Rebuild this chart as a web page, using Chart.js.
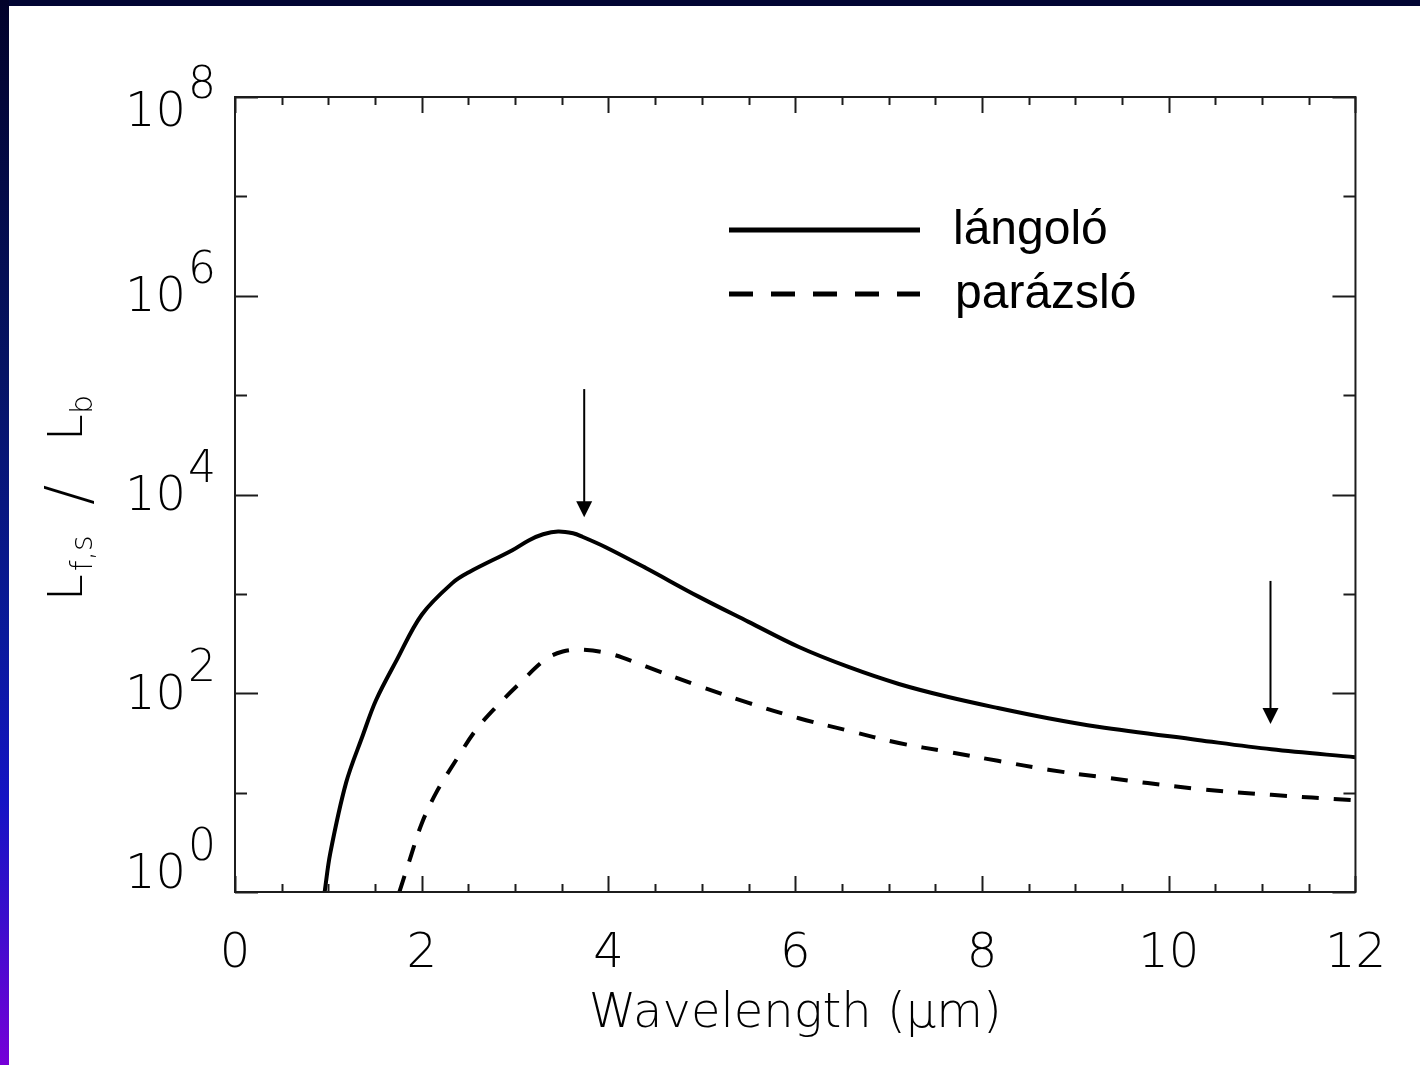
<!DOCTYPE html>
<html>
<head>
<meta charset="utf-8">
<script src="https://cdn.jsdelivr.net/npm/chart.js@4.4.1/dist/chart.umd.min.js"></script>
<style>
  html, body { margin: 0; padding: 0; background: #fff; }
  #wrap { position: relative; width: 1420px; height: 1065px; overflow: hidden; background: #fff; }
  #topbar { position: absolute; left: 0; top: 0; width: 1420px; height: 6px; background: #020533; z-index: 2; }
  #leftbar { position: absolute; left: 0; top: 0; width: 9px; height: 1065px; z-index: 2;
    background: linear-gradient(to bottom, #02022a 0%, #061465 35%, #0a1a9c 60%, #1414c4 75%, #3a0ecc 86%, #7600d8 100%); }
  canvas { position: absolute; left: 0; top: 0; }
</style>
</head>
<body>
<div id="wrap">
  <div id="topbar"></div>
  <div id="leftbar"></div>
  <canvas id="chart" width="1420" height="1065"></canvas>
</div>
<script>
(() => {
  'use strict';

  // flaming (lángoló) curve
  const flamingX = [0.96, 1.02, 1.19, 1.37, 1.51, 1.73, 2.0, 2.33, 2.51, 2.97, 3.15, 3.3, 3.46, 3.62, 3.72, 3.97, 4.4, 4.97, 5.5, 6.04, 6.57, 7.11, 7.64, 8.17, 8.71, 9.24, 10.31, 11.1, 12.0];
  const flamingY = [1.0, 2.45, 12.6, 38, 85, 214, 617, 1290, 1660, 2750, 3470, 3980, 4250, 4070, 3760, 2950, 1820, 933, 523, 292, 184, 124, 91.6, 71, 56, 46, 33.9, 27.3, 22.7];

  // smouldering (parázsló) curve
  const smolderX = [1.76, 1.87, 2.0, 2.155, 2.37, 2.58, 2.8, 3.05, 3.33, 3.51, 3.69, 4.01, 4.4, 4.97, 5.5, 6.04, 6.57, 7.11, 7.64, 8.17, 8.71, 9.24, 10.31, 11.1, 11.97];
  const smolderY = [1.0, 2.09, 4.9, 10, 21.4, 42.7, 73.3, 126, 221, 263, 275, 251, 186, 118, 80, 56, 42, 31.6, 25.7, 20.9, 17, 14.5, 10.9, 9.5, 8.4];

  const seriesLabels = ['lángoló', 'parázsló'];

  // axis ticks
  const xMin = 0, xMax = 12, xStep = 0.5, xLabelStep = 2;
  const yDecades = [1, 1e1, 1e2, 1e3, 1e4, 1e5, 1e6, 1e7, 1e8];
  const yLabelExp = { 1: '0', 100: '2', 10000: '4', 1000000: '6', 100000000: '8' };

  // arrows (x, top of shaft, tip)
  const arrowX = [3.74, 11.09];
  const arrowTop = [1.15e5, 1.35e3];
  const arrowTip = [5.9e3, 49];

  const AXIS_FONT = '"DejaVu Sans", sans-serif';
  const AXIS_WEIGHT = '200';
  const LEGEND_FONT = '"Liberation Sans", Arial, sans-serif';
  const INK = '#000';

  const pts = (xs, ys) => xs.map((x, i) => ({ x, y: ys[i] }));

  const framePlugin = {
    id: 'frame',
    afterDatasetsDraw(chart) {
      const { ctx, chartArea: a, scales: { x, y } } = chart;
      ctx.save();
      ctx.strokeStyle = '#1c1c1c';
      ctx.lineWidth = 2;
      ctx.strokeRect(a.left, a.top, a.right - a.left, a.bottom - a.top);

      const seg = (x1, y1, x2, y2) => { ctx.beginPath(); ctx.moveTo(x1, y1); ctx.lineTo(x2, y2); ctx.stroke(); };

      // inward ticks on all four sides
      x.ticks.forEach(t => {
        const px = Math.round(x.getPixelForValue(t.value)) + 0.5;
        const len = t.value % xLabelStep === 0 ? 16 : 8;
        seg(px, a.bottom, px, a.bottom - len);
        seg(px, a.top, px, a.top + len);
      });
      y.ticks.forEach(t => {
        const py = Math.round(y.getPixelForValue(t.value)) + 0.5;
        const len = yLabelExp[t.value] ? 23 : 12;
        seg(a.left, py, a.left + len, py);
        seg(a.right, py, a.right - len, py);
      });

      // y tick labels: 10 with raised exponent
      ctx.fillStyle = INK;
      y.ticks.forEach(t => {
        const exp = yLabelExp[t.value];
        if (!exp) return;
        const py = Math.min(Math.max(y.getPixelForValue(t.value) + 3, a.top + 17), a.bottom - 16);
        ctx.font = `${AXIS_WEIGHT} 48px ${AXIS_FONT}`;
        ctx.textAlign = 'right';
        ctx.textBaseline = 'middle';
        ctx.fillText('10', a.left - 49, py);
        ctx.font = `${AXIS_WEIGHT} 44px ${AXIS_FONT}`;
        ctx.textAlign = 'left';
        ctx.fillText(exp, a.left - 47, py - 27);
      });

      // arrows
      ctx.fillStyle = INK;
      ctx.strokeStyle = INK;
      ctx.lineWidth = 2;
      arrowX.forEach((ax, i) => {
        const px = x.getPixelForValue(ax);
        const top = y.getPixelForValue(arrowTop[i]);
        const tip = y.getPixelForValue(arrowTip[i]);
        seg(px, top, px, tip - 12);
        ctx.beginPath();
        ctx.moveTo(px - 8, tip - 16);
        ctx.lineTo(px + 8, tip - 16);
        ctx.lineTo(px, tip);
        ctx.closePath();
        ctx.fill();
      });

      // legend
      const lx1 = a.left + 494, lx2 = a.left + 685;
      chart.data.datasets.forEach((ds, i) => {
        const ly = a.top + 133 + i * 64;
        ctx.strokeStyle = ds.borderColor;
        ctx.lineWidth = 5;
        ctx.setLineDash(i === 0 ? [] : [24, 18]);
        seg(lx1, ly, lx2, ly);
        ctx.setLineDash([]);
        ctx.fillStyle = INK;
        ctx.font = `48px ${LEGEND_FONT}`;
        ctx.textAlign = 'left';
        ctx.textBaseline = 'middle';
        ctx.fillText(ds.label, a.left + 718 + i * 2, ly + 1);
      });

      // y title: L_{f,s} / L_b, rotated
      ctx.translate(82, 597);
      ctx.rotate(-Math.PI / 2);
      ctx.textAlign = 'left';
      ctx.textBaseline = 'alphabetic';
      ctx.fillStyle = INK;
      const part = (txt, size, dx, dy) => { ctx.font = `${AXIS_WEIGHT} ${size}px ${AXIS_FONT}`; ctx.fillText(txt, dx, dy); };
      part('L', 48, -4, 0);
      part('f,s', 30, 26, 10);
      part('/', 60, 92, 6);
      part('L', 48, 156, 0);
      part('b', 30, 183, 10);
      ctx.restore();
    }
  };

  new Chart(document.getElementById('chart'), {
    type: 'line',
    data: {
      datasets: [
        { label: seriesLabels[0], data: pts(flamingX, flamingY), borderColor: INK, borderWidth: 4, tension: 0.35 },
        { label: seriesLabels[1], data: pts(smolderX, smolderY), borderColor: INK, borderWidth: 4, borderDash: [17, 15], tension: 0.35 }
      ]
    },
    options: {
      responsive: false,
      animation: false,
      devicePixelRatio: 1,
      layout: { padding: { top: 97, right: 62, left: 0, bottom: 0 } },
      elements: { point: { radius: 0 } },
      plugins: { legend: { display: false }, tooltip: { enabled: false } },
      scales: {
        x: {
          type: 'linear', min: xMin, max: xMax,
          grid: { display: false, drawTicks: false },
          border: { display: false },
          ticks: {
            stepSize: xStep, autoSkip: false, maxRotation: 0, padding: 34, color: INK,
            font: { family: AXIS_FONT, size: 48, weight: AXIS_WEIGHT },
            callback: v => v % xLabelStep === 0 ? String(v) : ''
          },
          title: { display: true, text: 'Wavelength (μm)', color: INK, font: { family: AXIS_FONT, size: 48, weight: AXIS_WEIGHT }, padding: { top: 0, bottom: 22 } },
          afterFit: s => { s.height = 173; }
        },
        y: {
          type: 'logarithmic', min: 1, max: 1e8,
          grid: { display: false, drawTicks: false },
          border: { display: false },
          ticks: { display: false },
          afterBuildTicks: s => { s.ticks = yDecades.map(v => ({ value: v })); },
          afterFit: s => { s.width = 235; }
        }
      }
    },
    plugins: [framePlugin]
  });
})();
</script>
</body>
</html>
